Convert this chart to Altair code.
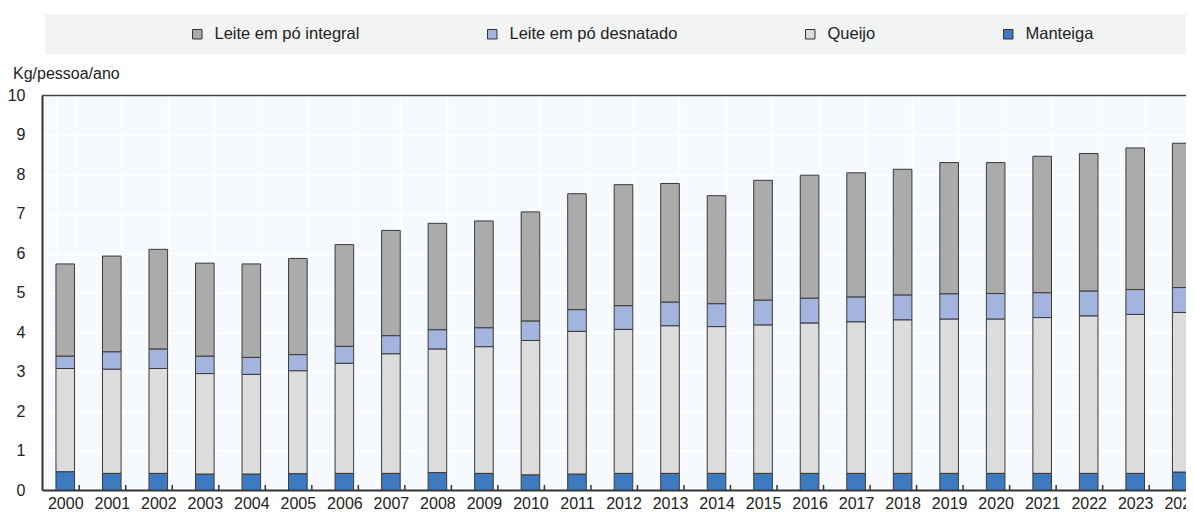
import altair as alt
import pandas as pd

years = [str(y) for y in range(2000, 2025)]
manteiga = [0.46, 0.42, 0.42, 0.40, 0.40, 0.41, 0.42, 0.42, 0.44, 0.42, 0.38, 0.40, 0.42,
            0.42, 0.42, 0.42, 0.42, 0.42, 0.42, 0.42, 0.42, 0.42, 0.42, 0.42, 0.45]
queijo = [2.62, 2.64, 2.66, 2.55, 2.53, 2.61, 2.79, 3.03, 3.13, 3.21, 3.41, 3.62, 3.65,
          3.74, 3.72, 3.76, 3.81, 3.84, 3.89, 3.91, 3.91, 3.95, 3.99, 4.03, 4.05]
desnatado = [0.31, 0.44, 0.49, 0.44, 0.43, 0.41, 0.43, 0.46, 0.49, 0.48, 0.49, 0.55, 0.60,
             0.60, 0.58, 0.63, 0.63, 0.63, 0.63, 0.64, 0.65, 0.63, 0.63, 0.63, 0.63]
integral = [2.34, 2.43, 2.53, 2.36, 2.37, 2.44, 2.58, 2.67, 2.70, 2.71, 2.77, 2.94, 3.07,
            3.01, 2.74, 3.04, 3.12, 3.15, 3.19, 3.33, 3.32, 3.46, 3.49, 3.59, 3.66]

series_names = ["Leite em pó integral", "Leite em pó desnatado", "Queijo", "Manteiga"]
series_colors = ["#ababab", "#a3b5de", "#dcdcdc", "#3d7abf"]
stack_order = {"Manteiga": 0, "Queijo": 1, "Leite em pó desnatado": 2, "Leite em pó integral": 3}

rows = []
for name, vals in zip(series_names, [integral, desnatado, queijo, manteiga]):
    for y, v in zip(years, vals):
        rows.append({"year": y, "serie": name, "value": v, "ord": stack_order[name]})
df = pd.DataFrame(rows)

FONT = "Liberation Sans"
W = 1144          # visible plot width (page is 1178 wide inside its margins)
XR = 1163         # x range: the last band runs past the page edge, as in the reference
H = 394.5
STEP = XR / 25

xscale = alt.Scale(paddingInner=0.6, paddingOuter=0.3, range=[0, XR])

band = alt.Chart(pd.DataFrame({"a": [0]})).mark_rect(color="#f2f3f3").encode(
    x=alt.value(3), x2=alt.value(1170), y=alt.value(-81.5), y2=alt.value(-41.5)
)

top_border = alt.Chart(pd.DataFrame({"a": [0]})).mark_rule(color="#444444", strokeWidth=1.5).encode(
    x=alt.value(0), x2=alt.value(XR), y=alt.value(0)
)

bars = alt.Chart(df).mark_bar(stroke="#3a3a3a", strokeWidth=1).encode(
    x=alt.X("year:N", scale=xscale, title=None,
            axis=alt.Axis(tickBand="extent", grid=True, gridColor="#ffffff", gridWidth=1.5,
                          ticks=False, labelAngle=0, labelPadding=5, domainColor="#333333",
                          domainWidth=2)),
    y=alt.Y("value:Q", stack="zero", scale=alt.Scale(domain=[0, 10], nice=False),
            axis=alt.Axis(values=list(range(0, 11)), title="Kg/pessoa/ano", titleAngle=0,
                          titleX=-29.5, titleY=-17.5, titleAlign="left", titleBaseline="alphabetic",
                          titleFontWeight="normal", grid=True, gridColor="#ffffff", gridWidth=1.5,
                          ticks=False, labelAlign="right", labelPadding=17,
                          labelBaseline="middle", domainColor="#333333", domainWidth=2)),
    color=alt.Color("serie:N", scale=alt.Scale(domain=series_names, range=series_colors),
                    legend=alt.Legend(orient="none", legendX=147, legendY=-69.5, direction="horizontal",
                                      columns=4, title=None, symbolType="square", symbolSize=90,
                                      symbolStrokeColor="#333333", symbolStrokeWidth=1,
                                      symbolOpacity=1, labelFontSize=16.5, labelFont=FONT,
                                      labelColor="#222222", gridAlign="none", columnPadding=124,
                                      labelOffset=9, labelLimit=400)),
    order=alt.Order("ord:Q", sort="ascending"),
)

ticks_df = pd.DataFrame({"year": years[1:]})
ticks = alt.Chart(ticks_df).mark_rule(color="#333333", strokeWidth=1.5).encode(
    x=alt.X("year:N", scale=xscale), xOffset=alt.value(-STEP / 2),
    y=alt.value(H - 5), y2=alt.value(H)
)

chart = alt.layer(band, bars, ticks, top_border).properties(
    width=W, height=H,
    autosize=alt.AutoSizeParams(type="none"),
    padding={"left": 34, "top": 87.5, "right": 0, "bottom": 25},
    background="#ffffff",
).configure_view(
    fill="#f6f9fd", stroke=None
).configure_axis(
    labelFont=FONT, labelFontSize=16, labelColor="#222222",
    titleFont=FONT, titleFontSize=16, titleColor="#222222"
)

chart.save("out.html", embed_options={"renderer": "svg", "actions": False})
